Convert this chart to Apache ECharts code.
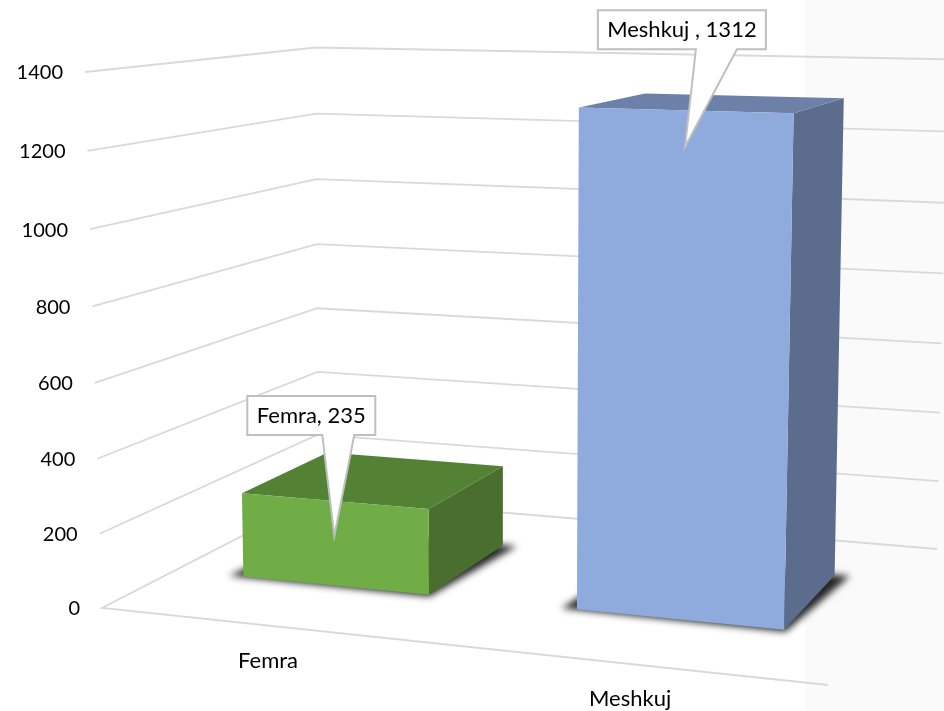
<!DOCTYPE html>
<html>

<head>
    <meta charset="UTF-8">
    <title>Femra / Meshkuj</title>
    <script src="https://cdn.jsdelivr.net/npm/echarts@6/dist/echarts.min.js"></script>
    <style>
        html, body { margin: 0; padding: 0; background: #fff; }
        #main { width: 944px; height: 711px; }
    </style>
</head>

<body>
    <div id="main"></div>
    <script>
        var categories = ['Femra', 'Meshkuj'];
        var values = [235, 1312];
        var tickValues = [0, 200, 400, 600, 800, 1000, 1200, 1400];
        var barColors = [
            { front: '#70ad47', top: '#548235', side: '#4a6e2e' },
            { front: '#8faadc', top: '#6c80a8', side: '#5c6c8d' }
        ];
        var calloutTexts = ['Femra, 235', 'Meshkuj , 1312'];

        // camera: corners of the floor and of the 1400 plane, order front-left, front-right, back-right, back-left
        var floorQuad = [[102, 608], [828, 685], [937, 549], [318, 497]];
        var topQuad = [[85, 72], [842, 90], [948, 59.3], [316, 47.5]];
        var heightBend = 0.965;
        var barFrac = 0.57, depthFront = 0.305, depthBack = 0.72;
        var shadowGrow = 0.021;
        var offscreen = 3000;
        // callout box, relative to the tip
        var calloutBox = [
            { drop: 35, left: -87, right: 41, top: -140, bottom: -101, baseL: -12, baseR: 20 },
            { drop: 37, left: -87, right: 81, top: -137, bottom: -98, baseL: 11, baseR: 52 }
        ];

        function quadToMatrix(q) {
            var dx1 = q[1][0] - q[2][0], dy1 = q[1][1] - q[2][1];
            var dx2 = q[3][0] - q[2][0], dy2 = q[3][1] - q[2][1];
            var sx = q[0][0] - q[1][0] + q[2][0] - q[3][0];
            var sy = q[0][1] - q[1][1] + q[2][1] - q[3][1];
            var den = dx1 * dy2 - dx2 * dy1;
            var g = (sx * dy2 - dx2 * sy) / den;
            var h = (dx1 * sy - sx * dy1) / den;
            return [
                q[1][0] - q[0][0] + g * q[1][0], q[3][0] - q[0][0] + h * q[3][0], q[0][0],
                q[1][1] - q[0][1] + g * q[1][1], q[3][1] - q[0][1] + h * q[3][1], q[0][1],
                g, h
            ];
        }
        var floorM = quadToMatrix(floorQuad);
        var topM = quadToMatrix(topQuad);

        function applyM(m, u, w) {
            var d = m[6] * u + m[7] * w + 1;
            return [(m[0] * u + m[1] * w + m[2]) / d, (m[3] * u + m[4] * w + m[5]) / d];
        }

        // u along the categories, w into the depth, v = share of the value axis (all 0..1)
        function project(u, w, v) {
            var a = applyM(floorM, u, w), b = applyM(topM, u, w);
            var t = heightBend * v / (1 + (heightBend - 1) * v);
            return [a[0] + (b[0] - a[0]) * t, a[1] + (b[1] - a[1]) * t];
        }

        function share(params, api, cat, val) {
            var cs = params.coordSys;
            var p = api.coord([cat, val]);
            return { u: (p[0] - cs.x) / cs.width, v: (cs.y + cs.height - p[1]) / cs.height };
        }

        function poly(points, fill, extra) {
            var style = { fill: fill };
            for (var k in (extra || {})) style[k] = extra[k];
            return { type: 'polygon', shape: { points: points }, style: style };
        }

        function renderWalls(params, api) {
            var s = share(params, api, 0, api.value(0));
            var start = project(0, 0, s.v);
            var pts = [start, project(0, 1, s.v), project(1, 1, s.v)];
            if (api.value(0) === 0) pts.unshift(project(1, 0, 0));
            return {
                type: 'group',
                children: [{
                    type: 'polyline',
                    shape: { points: pts },
                    style: { stroke: '#d9d9d9', lineWidth: 1.8, fill: null }
                }, {
                    type: 'text',
                    style: {
                        x: start[0] - 22, y: start[1] + 1,
                        text: String(api.value(0)),
                        fill: '#000', font: '20px Lato',
                        align: 'right', verticalAlign: 'middle'
                    }
                }]
            };
        }

        function renderBars(params, api) {
            var i = api.value(0);
            var s = share(params, api, i, api.value(1));
            var half = api.size([1, 0])[0] * barFrac / 2 / params.coordSys.width;
            var u0 = s.u - half, u1 = s.u + half;
            var c = barColors[i];

            // only the blurred shadow lands on the canvas, the polygon itself stays off it
            var shade = [
                project(u0 - shadowGrow, depthFront - 0.004, 0),
                project(u1 + 0.004, depthFront - 0.012, 0),
                project(u1 + shadowGrow, depthBack + 0.004, 0),
                project(u0, depthBack, 0)
            ].map(function (p) { return [p[0] - offscreen, p[1]]; });
            var fl = project(u0, depthFront, s.v), fr = project(u1, depthFront, s.v);
            var bl = project(u0, depthBack, s.v), br = project(u1, depthBack, s.v);
            var flo = project(u0, depthFront, 0), fro = project(u1, depthFront, 0), bro = project(u1, depthBack, 0);

            var children = [
                poly(shade, '#000', { shadowBlur: 7, shadowColor: 'rgba(0,0,0,0.85)', shadowOffsetX: offscreen }),
                poly([fr, br, bro, fro], c.side),
                poly([fl, fr, br, bl], c.top),
                poly([fl, fr, fro, flo], c.front)
            ];

            // category label under the front edge
            var foot = project(s.u, 0, 0);
            children.push({
                type: 'text',
                style: {
                    x: foot[0], y: foot[1] + 35,
                    text: categories[i],
                    fill: '#000', font: '22px Lato',
                    align: 'center', verticalAlign: 'middle'
                }
            });

            // callout pointing into the front face
            var mid = project(s.u, depthFront, s.v);
            var b = calloutBox[i];
            var tip = [mid[0] + 0.5, mid[1] + b.drop];
            children.push(poly([
                [tip[0] + b.left, tip[1] + b.top],
                [tip[0] + b.right, tip[1] + b.top],
                [tip[0] + b.right, tip[1] + b.bottom],
                [tip[0] + b.baseR, tip[1] + b.bottom],
                tip,
                [tip[0] + b.baseL, tip[1] + b.bottom],
                [tip[0] + b.left, tip[1] + b.bottom]
            ], '#fff', { stroke: '#bfbfbf', lineWidth: 2 }));
            children.push({
                type: 'text',
                style: {
                    x: tip[0] + (b.left + b.right) / 2, y: tip[1] + (b.top + b.bottom) / 2,
                    text: calloutTexts[i],
                    fill: '#000', font: '22px Lato',
                    align: 'center', verticalAlign: 'middle'
                }
            });
            return { type: 'group', children: children };
        }

        var chart = echarts.init(document.getElementById('main'));
        var option = {
            animation: false,
            backgroundColor: '#fff',
            graphic: [{
                type: 'rect', z: 0, silent: true,
                shape: { x: 805, y: 0, width: 139, height: 711 },
                style: { fill: '#fafafa' }
            }],
            grid: { left: 100, right: 100, top: 60, bottom: 100 },
            xAxis: { type: 'category', data: categories, show: false },
            yAxis: { type: 'value', min: 0, max: 1400, interval: 200, show: false },
            series: [{
                type: 'custom', name: 'walls', z: 2, clip: false, silent: true,
                renderItem: renderWalls,
                data: tickValues.map(function (v) { return [v]; }),
                encode: { y: 0 }
            }, {
                type: 'custom', name: 'bars', z: 3, clip: false, silent: true,
                renderItem: renderBars,
                data: values.map(function (v, i) { return [i, v]; }),
                encode: { x: 0, y: 1 }
            }]
        };
        chart.setOption(option);
    </script>
</body>

</html>
